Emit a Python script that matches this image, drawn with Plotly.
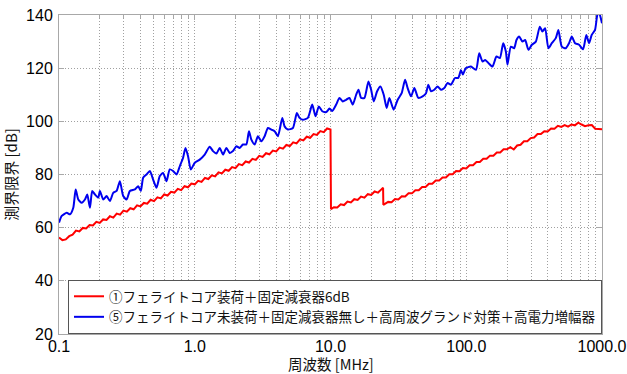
import plotly.graph_objects as go

# ---------------- data ----------------
red_name = "①フェライトコア装荷＋固定減衰器6dB"
blue_name = "⑤フェライトコア未装荷＋固定減衰器無し＋高周波グランド対策＋高電力増幅器"
x_title = "周波数 [MHz]"
y_title = "測界限界 [dB]"

red_f = [0.1, 0.1059, 0.1122, 0.1189, 0.1259, 0.1334, 0.1413, 0.1496, 0.1585, 0.1679,
         0.1778, 0.1884, 0.1995, 0.2113, 0.2239, 0.2371, 0.2512, 0.2661, 0.2818, 0.2985,
         0.3162, 0.335, 0.3548, 0.3758, 0.3981, 0.4217, 0.4467, 0.4732, 0.5012, 0.5309,
         0.5623, 0.5957, 0.631, 0.6683, 0.7079, 0.7499, 0.7943, 0.8414, 0.8913, 0.9441,
         1.0, 1.059, 1.122, 1.189, 1.259, 1.334, 1.413, 1.496, 1.585, 1.679,
         1.778, 1.884, 1.995, 2.113, 2.239, 2.371, 2.512, 2.661, 2.818, 2.985,
         3.162, 3.35, 3.548, 3.758, 3.981, 4.217, 4.467, 4.732, 5.012, 5.309,
         5.623, 5.957, 6.31, 6.683, 7.079, 7.499, 7.943, 8.414, 8.913, 9.441, 10.0,
         10.08, 10.59, 11.22, 11.89, 12.59, 13.34, 14.13, 14.96, 15.85, 16.79,
         17.78, 18.84, 19.95, 21.13, 22.39, 23.71, 24.4,
         24.5, 26.61, 28.18, 29.85, 31.62, 33.5, 35.48, 37.58, 39.81, 42.17,
         44.67, 47.32, 50.12, 53.09, 56.23, 59.57, 63.1, 66.83, 70.79, 74.99,
         79.43, 84.14, 89.13, 94.41, 100.0, 105.9, 112.2, 118.9, 125.9, 133.4,
         141.3, 149.6, 158.5, 167.9, 177.8, 188.4, 199.5, 211.3, 223.9, 237.1,
         251.2, 266.1, 281.8, 298.5, 316.2, 335.0, 354.8, 375.8, 398.1, 421.7,
         446.7, 473.2, 501.2, 530.9, 562.3, 595.7, 631.0, 668.3, 707.9, 749.9,
         794.3, 841.4, 891.3, 944.1, 1000.0]

red_db = [56.3, 55.3, 55.6, 56.8, 57.4, 58.9, 58.6, 59.9, 59.7, 61.0,
          60.8, 62.2, 61.8, 63.1, 62.9, 64.3, 63.8, 65.3, 64.9, 66.4,
          66.0, 67.3, 66.9, 68.4, 68.0, 69.3, 69.0, 70.5, 70.0, 71.4,
          71.0, 72.5, 72.1, 73.5, 73.2, 74.6, 74.1, 75.6, 75.2, 76.6,
          76.3, 77.6, 77.2, 78.7, 78.3, 79.7, 79.3, 80.8, 80.4, 81.8,
          81.4, 82.8, 82.4, 83.9, 83.5, 84.9, 84.5, 85.9, 85.5, 87.0,
          86.6, 88.0, 87.6, 89.0, 88.7, 90.1, 89.7, 91.1, 90.7, 92.1,
          91.7, 93.2, 92.8, 94.2, 93.8, 95.2, 94.9, 96.3, 95.9, 97.3, 96.9,
          67.0, 67.7, 67.6, 68.8, 68.5, 69.8, 69.5, 70.7, 70.4, 71.7,
          71.3, 72.6, 72.3, 73.6, 73.2, 74.4, 75.0,
          68.6, 69.7, 69.6, 70.8, 70.6, 71.8, 71.7, 72.9, 72.9, 74.1,
          74.1, 75.3, 75.3, 76.5, 76.5, 77.7, 77.7, 78.9, 78.9, 80.1,
          80.1, 81.3, 81.2, 82.4, 82.3, 83.5, 83.5, 84.7, 84.7, 85.9,
          85.9, 87.1, 87.1, 88.3, 88.3, 89.5, 89.5, 90.3, 89.4, 90.9,
          91.2, 92.5, 92.5, 93.7, 93.9, 95.2, 95.2, 96.3, 96.2, 97.3,
          97.2, 98.3, 97.9, 98.6, 98.0, 98.8, 98.5, 99.5, 98.8, 98.2,
          98.5, 98.6, 97.2, 97.2, 97.0]

blue_f = [0.1, 0.1047, 0.114, 0.1205, 0.1274, 0.1327, 0.1387, 0.1469, 0.1553, 0.1615,
          0.169, 0.1757, 0.1839, 0.1945, 0.2002, 0.2117, 0.2242, 0.2371, 0.2508, 0.2657,
          0.2809, 0.2971, 0.3147, 0.3328, 0.3622, 0.383, 0.4009, 0.4168, 0.4414, 0.4669,
          0.4936, 0.5228, 0.5529, 0.5847, 0.6193, 0.6549, 0.6925, 0.7336, 0.7759, 0.8204,
          0.8544, 0.8927, 0.9346, 1.0, 1.088, 1.184, 1.289, 1.363, 1.444, 1.527,
          1.615, 1.711, 1.809, 1.913, 2.026, 2.143, 2.266, 2.4, 2.508, 2.612,
          2.762, 2.92, 3.093, 3.271, 3.459, 3.664, 3.874, 4.097, 4.415, 4.59,
          4.853, 5.284, 5.652, 5.917, 6.256, 6.81, 7.335, 7.757, 8.204, 8.69,
          9.3, 9.83, 10.3, 11.01, 11.65, 12.31, 13.04, 13.79, 14.59, 15.45,
          16.07, 16.82, 17.78, 19.03, 19.92, 20.82, 22.05, 23.31, 24.66, 25.94,
          27.15, 29.2, 31.26, 33.44, 35.42, 37.01, 39.21, 41.46, 44.37, 47.71,
          50.55, 52.56, 55.02, 58.18, 61.52, 65.16, 68.9, 72.87, 77.18, 82.59,
          87.34, 91.42, 94.5, 99.0, 103.4, 108.3, 117.9, 124.6, 131.8, 137.9,
          145.9, 156.1, 167.0, 176.9, 187.1, 195.8, 201.2, 213.2, 225.4, 234.4,
          245.3, 259.4, 271.5, 287.1, 304.1, 325.5, 348.3, 363.9, 381.0, 402.9,
          426.8, 456.6, 477.2, 505.5, 541.0, 571.9, 598.6, 633.0, 677.5, 725.0,
          766.7, 802.5, 840.1, 888.3, 923.5, 950.4, 1000.0]

blue_db = [61.9, 64.4, 65.6, 65.0, 67.5, 74.4, 70.6, 69.4, 70.6, 72.5,
           67.5, 73.8, 72.5, 71.3, 73.8, 70.6, 71.9, 70.0, 73.1, 73.8,
           77.5, 71.9, 70.6, 73.8, 74.4, 75.6, 73.8, 78.8, 80.0, 81.3,
           78.1, 75.0, 79.4, 80.6, 77.5, 81.9, 81.3, 80.0, 83.1, 86.3,
           90.0, 86.9, 81.9, 84.4, 85.6, 87.5, 90.4, 88.8, 87.9, 90.0,
           87.5, 90.0, 88.1, 88.8, 90.6, 90.0, 91.3, 91.3, 96.3, 93.1,
           91.3, 94.4, 92.5, 94.4, 97.5, 96.9, 96.3, 94.4, 101.3, 98.1,
           96.9, 97.5, 103.1, 101.3, 100.6, 101.3, 106.3, 101.9, 105.6, 103.8,
           103.5, 104.8, 103.9, 106.3, 108.8, 107.5, 108.1, 108.8, 106.3, 110.0,
           111.9, 108.8, 108.8, 115.0, 111.9, 107.5, 111.3, 113.1, 110.0, 105.0,
           108.8, 104.4, 108.1, 110.6, 115.6, 112.5, 109.4, 112.5, 108.8, 109.4,
           110.6, 113.8, 111.3, 111.9, 113.1, 111.9, 112.5, 114.4, 113.8, 116.3,
           116.3, 119.2, 117.6, 120.0, 120.4, 120.6, 119.4, 125.6, 122.5, 123.1,
           121.9, 120.6, 124.4, 123.8, 129.4, 126.3, 121.3, 128.1, 127.5, 130.6,
           131.9, 130.0, 130.6, 126.9, 128.8, 130.0, 135.6, 133.8, 135.0, 127.5,
           129.4, 131.3, 134.4, 128.1, 127.5, 129.4, 131.9, 129.4, 128.8, 127.1,
           132.5, 129.4, 132.5, 134.4, 140.0, 141.0, 136.9]

x_tick_vals = [0.1, 1, 10, 100, 1000]
x_tick_text = ["0.1", "1.0", "10.0", "100.0", "1000.0"]
x_minor_vals = [m * d for d in [0.1, 1, 10, 100] for m in range(2, 10)]
y_tick_vals = [20, 40, 60, 80, 100, 120, 140]

# ---------------- figure ----------------
fig = go.Figure()
fig.add_trace(go.Scatter(x=red_f, y=red_db, mode="lines", name=red_name,
                         line=dict(color="#ff0000", width=2)))
fig.add_trace(go.Scatter(x=blue_f, y=blue_db, mode="lines", name=blue_name,
                         line=dict(color="#0000ee", width=2, shape="spline", smoothing=0.6)))

font_fam = "Liberation Sans, Arial, Noto Sans CJK JP, sans-serif"
cjk_fam = "Noto Sans CJK JP, sans-serif"
grid_col = "#a0a0a0"
axis_col = "#a8a8a8"
grid_dash = "1px,2px"

fig.update_layout(
    width=627, height=374,
    margin=dict(l=59, r=25, t=15, b=40),
    paper_bgcolor="white", plot_bgcolor="white",
    font=dict(family=font_fam, size=16, color="#111111"),
    showlegend=True,
    legend=dict(x=1, y=0, xanchor="right", yanchor="bottom",
                bgcolor="white", bordercolor="#555555", borderwidth=1,
                font=dict(family=cjk_fam, size=13.5, color="#111111"),
                tracegroupgap=0, traceorder="normal"),
    annotations=[dict(text=x_title, xref="paper", yref="paper", x=0.5, y=-0.092,
                      xanchor="center", yanchor="middle", showarrow=False,
                      borderpad=0,
                      font=dict(family=cjk_fam, size=14.5, color="#111111"))],
)

fig.update_xaxes(
    type="log", range=[-1, 3],
    tickvals=x_tick_vals, ticktext=x_tick_text,
    ticks="inside", ticklen=5, tickcolor=axis_col,
    showline=True, linecolor=axis_col, linewidth=1, mirror="allticks",
    showgrid=True, gridcolor=grid_col, griddash=grid_dash, gridwidth=1,
    minor=dict(tickvals=x_minor_vals, ticks="inside", ticklen=3, tickcolor=axis_col,
               showgrid=True, gridcolor=grid_col, griddash=grid_dash, gridwidth=1),
    tickfont=dict(family=font_fam, size=16, color="#000000"),
    ticklabelstandoff=-2,
    zeroline=False, automargin=False,
)
fig.update_yaxes(
    range=[20, 140], tickvals=y_tick_vals,
    ticks="inside", ticklen=5, tickcolor=axis_col,
    showline=True, linecolor=axis_col, linewidth=1, mirror="allticks",
    showgrid=True, gridcolor=grid_col, griddash=grid_dash, gridwidth=1,
    tickfont=dict(family=font_fam, size=16, color="#000000"),
    ticklabelstandoff=2,
    title=dict(text=y_title, font=dict(family=cjk_fam, size=15), standoff=6),
    zeroline=False, automargin=False,
)

fig.write_html("out.html")
